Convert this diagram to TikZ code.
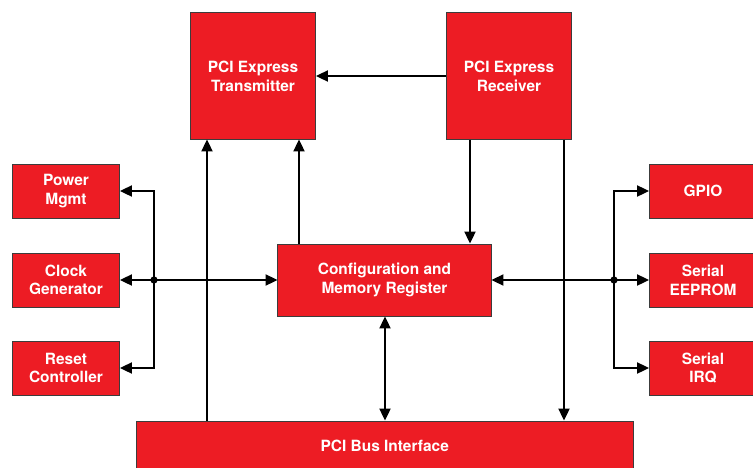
\documentclass[tikz,border=0pt]{standalone}
\usepackage{fontspec}
\setsansfont{TeX Gyre Heros}
\definecolor{BlockRed}{RGB}{237,28,36}
\definecolor{EdgeGray}{RGB}{60,60,60}
\usetikzlibrary{arrows.meta,positioning,calc}

\begin{document}
\begin{tikzpicture}[x=0.025cm,y=-0.025cm,
  blk/.style={draw=EdgeGray,fill=BlockRed,line width=0.7pt,inner sep=0pt,
              align=center,text=white,
              font=\sffamily\bfseries\fontsize{11}{13.3}\selectfont},
  big/.style={blk,minimum width=3.125cm,minimum height=3.15cm},
  side/.style={blk,minimum width=2.675cm,minimum height=1.35cm},
  wire/.style={line width=0.9pt,black},
  arr/.style={wire,-{Triangle[length=8.5pt,width=8pt]}},
  darr/.style={wire,{Triangle[length=8.5pt,width=8pt]}-{Triangle[length=8.5pt,width=8pt]}}]
  \clip (0,0) rectangle (753,467);
  % top row
  \node[big](TX) at (253,76) {PCI Express\\Transmitter};
  \node[big](RX) at (509,76) {PCI Express\\Receiver};
  % middle
  \node[blk,minimum width=5.325cm,minimum height=1.8cm]
       (CFG) at (384.5,280) {Configuration and\\Memory Register};
  % left column
  \node[side](PWR) at (66,191) {Power\\Mgmt};
  \node[side](CLK) at (66,280) {Clock\\Generator};
  \node[side](RST) at (66,368) {Reset\\Controller};
  % right column
  \node[side](GPIO) at (703,191) {GPIO};
  \node[side](EEP) at (703,280) {Serial\\EEPROM};
  \node[side](IRQ) at (703,368) {Serial\\IRQ};
  % bottom
  \node[blk,minimum width=12.425cm,minimum height=1.25cm]
       (BUS) at (384.7,446) {PCI Bus Interface};
  % helper points
  \coordinate (xA) at (207,0);
  \coordinate (xB) at (299,0);
  \coordinate (xC) at (470,0);
  \coordinate (xD) at (564,0);
  \coordinate (xE) at (385,0);
  \coordinate (LJ) at (154,280);
  \coordinate (RJ) at (614,280);
  % connectors
  \draw[arr](RX)--(TX);
  \draw[arr](BUS.north -| xA)--(TX.south -| xA);
  \draw[arr](CFG.north -| xB)--(TX.south -| xB);
  \draw[arr](RX.south -| xC)--(CFG.north -| xC);
  \draw[arr](RX.south -| xD)--(BUS.north -| xD);
  \draw[darr](CFG.south -| xE)--(BUS.north -| xE);
  \draw[darr](CLK.east)--(CFG.west);
  \draw[arr](LJ)|-(PWR.east);
  \draw[arr](LJ)|-(RST.east);
  \draw[darr](CFG.east)--(EEP.west);
  \draw[arr](RJ)|-(GPIO.west);
  \draw[arr](RJ)|-(IRQ.west);
  \fill (LJ) circle (2.6pt);
  \fill (RJ) circle (2.6pt);
\end{tikzpicture}
\end{document}
